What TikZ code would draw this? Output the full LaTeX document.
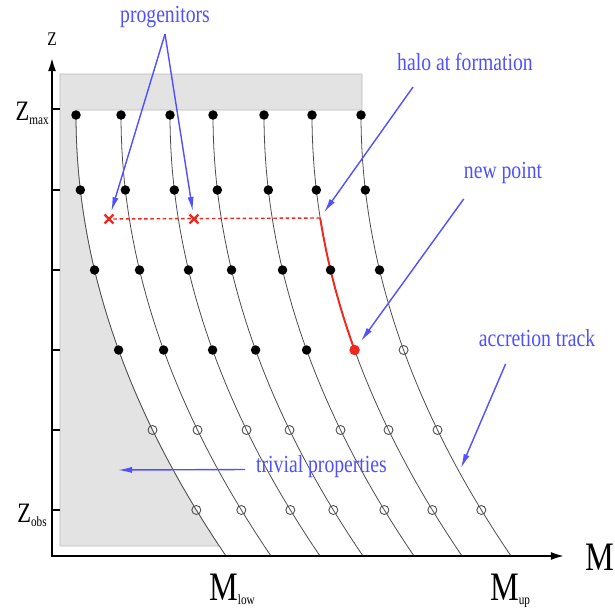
\documentclass[tikz,border=0pt]{standalone}
\usepackage{fontspec}
\setmainfont{Liberation Serif}[FakeStretch=0.8]
\usepackage{xcolor}
\usepackage{tikz}
\usetikzlibrary{arrows.meta,positioning,shapes.misc}

\definecolor{lblblue}{RGB}{80,80,255}
\definecolor{trkred}{RGB}{240,40,30}
\newcommand{\lowsub}[1]{\raisebox{-2.5pt}{\fontsize{8}{9}\selectfont #1}}

\begin{document}
\begin{tikzpicture}[x=0.02cm,y=0.02cm,
          axis/.style={line width=1.4pt,{Latex[length=8pt,width=4.5pt]}-{Latex[length=8pt,width=4.5pt]}},
          tick/.style={line width=1pt},
          track/.style={gray!60!black,line width=0.45pt},
          shade/.style={fill=gray!22,draw=gray!55,line width=0.4pt},
          full/.style={circle,fill=black,inner sep=0pt,minimum size=0.19cm},
          empty/.style={circle,draw=gray!60!black,line width=0.5pt,inner sep=0pt,minimum size=0.18cm},
          newpt/.style={circle,fill=trkred,inner sep=0pt,minimum size=0.21cm},
          prog/.style={cross out,draw=trkred,line width=1.4pt,inner sep=0pt,minimum size=0.13cm},
          lbl/.style={text=lblblue,font=\fontsize{14}{16}\selectfont},
          pointer/.style={draw=lblblue,line width=0.8pt,-{Latex[length=8pt,width=3.5pt]}},
          axlbl/.style={inner sep=0pt,font=\fontsize{16}{18}\selectfont},
          mlbl/.style={inner sep=0pt,anchor=base,font=\fontsize{23}{26}\selectfont}]
        \useasboundingbox (0,0) rectangle (615,610);
        \filldraw[shade] (60,536) -- (362,536) -- (362,500) -- (76,500)
          -- plot[domain=115:546,samples=40] ({76+(0.02777*(\x-115))^2},{610-\x}) -- (60,64) -- cycle;
        \foreach \xs in {76,121,170,213,264,312,361}
          \draw[track] plot[domain=115:556,samples=40] ({\xs+(0.02777*(\x-115))^2},{610-\x});
        \draw[trkred,line width=1.1pt] plot[domain=218:350,samples=20] ({312+(0.02777*(\x-115))^2},{610-\x});
        \coordinate (o) at (52,54);
        \coordinate (ytop) at (52,553);
        \coordinate (xend) at (565,54);
        \draw[axis] (ytop) -- (o) -- (xend);
        \foreach \t in {109,190,270,350,430,510}
          \draw[tick] (52,{610-\t}) -- (60,{610-\t});
        \foreach \xs [count=\k] in {76,121,170,213,264,312,361}
          \foreach \r [count=\j] in {115,190,270}
            \node[full] (p\k-\j) at ({\xs+(0.02777*(\r-115))^2},{610-\r}) {};
        \foreach \xs [count=\k] in {76,121,170,213,264}
          \node[full] (p\k-4) at ({\xs+(0.02777*235)^2},260) {};
        \node[newpt] (new) at ({312+(0.02777*235)^2},260) {};
        \node[empty] (p7-4) at ({361+(0.02777*235)^2},260) {};
        \foreach \xs [count=\k] in {76,121,170,213,264,312,361}
          \foreach \r [count=\j from 5] in {430,510}
            \node[empty] (p\k-\j) at ({\xs+(0.02777*(\r-115))^2},{610-\r}) {};
        \node[prog] (x1) at (109,391) {};
        \node[prog] (x2) at (194,391) {};
        \coordinate (form) at (320,392);
        \draw[trkred,line width=0.8pt,dash pattern=on 2pt off 1.5pt] (x1) -- (form);
        \node[lbl] (progl) at (165,593) {progenitors};
        \draw[pointer,shorten >=2pt] (progl.south) -- (x1);
        \draw[pointer,shorten >=2pt] (progl.south) -- (x2);
        \node[lbl] (halo) at (465,548) {halo at formation};
        \draw[pointer,shorten >=4pt] ([xshift=0.44cm,yshift=-0.2cm]halo.south west) -- (form);
        \node[lbl] (newl) at (503,437) {new point};
        \draw[pointer,shorten >=3pt] ([xshift=0.12cm,yshift=-0.18cm]newl.south west) -- (new);
        \node[lbl] (accl) at (537,272) {accretion track};
        \coordinate (acc) at (461,142);
        \draw[pointer] ([xshift=0.66cm,yshift=-0.22cm]accl.south west) -- (acc);
        \node[lbl,anchor=west] (triv) at (250,143) {trivial properties};
        \coordinate (trivpt) at (118,140);
        \draw[pointer] ([xshift=-0.1cm,yshift=-0.05cm]triv.west) -- (trivpt);
        \node[axlbl,anchor=base,font=\fontsize{11}{12}\selectfont] (zl) at (52,565) {Z};
        \node[axlbl,anchor=base east] (zmax) at (49,490) {Z\lowsub{max}};
        \node[axlbl,anchor=base east] (zobs) at (47,88) {Z\lowsub{obs}};
        \node[mlbl] (mlow) at (232,10) {M\lowsub{low}};
        \node[mlbl] (mup) at (510,10) {M\lowsub{up}};
        \node[mlbl] (ml) at (600,40) {M};
      \end{tikzpicture}
\end{document}
